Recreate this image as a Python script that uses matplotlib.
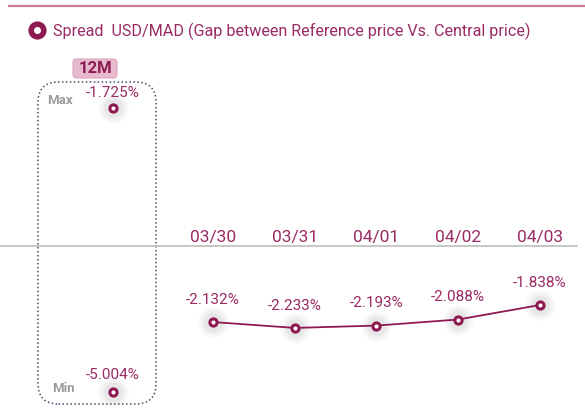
import matplotlib
matplotlib.use('Agg')
import matplotlib.pyplot as plt
from matplotlib.lines import Line2D
from matplotlib.patches import FancyBboxPatch
import numpy as np

# data
dates = ['03/30', '03/31', '04/01', '04/02', '04/03']
spread = [-2.132, -2.233, -2.193, -2.088, -1.838]
max_12m = -1.725
min_12m = -5.004
title = 'Spread  USD/MAD (Gap between Reference price Vs. Central price)'

MAROON = '#8e1a52'
TXT = '#9a2a63'
GRAY = '#9a9a9a'
W, H = 585, 408

plt.rcParams['font.family'] = ['Roboto', 'DejaVu Sans']


def fx(x):
    return x / W


def fy(y):
    return 1 - y / H


fig = plt.figure(figsize=(W / 100, H / 100), dpi=100)
fig.patch.set_facecolor('white')

# main axes: daily spread (index 0 at px 213, step ~81.75 px; -1.838 at px 305, 58 px/unit)
ax = fig.add_axes([0, 0, 1, 1])
ax.set_axis_off()
step = 81.75
ax.set_xlim(-213 / step, (W - 213) / step)
ax.set_ylim(-1.838 - (H - 305) / 58, -1.838 + 305 / 58)

x = np.arange(len(dates))


def glow(a, xs, ys, big=0):
    for s, al in [(22, 0.06), (18, 0.08), (14, 0.11)]:
        a.plot(xs, ys, 'o', ms=s + big, color='#9a9a9a', alpha=al, mec='none', zorder=2,
               ls='none')


ax.plot(x, spread, color=MAROON, lw=1.3, zorder=3)
glow(ax, x, spread)
ax.plot(x, spread, 'o', ms=5.2, mfc='white', mec=MAROON, mew=2.2, zorder=4)
for xi, v in zip(x, spread):
    ax.annotate(f'{v:.3f}%', (xi, v), xytext=(0, 16), textcoords='offset points',
                ha='center', va='center', fontsize=11, color=TXT)

# date labels and separator
for xi, d in zip(x, dates):
    ax.text(xi, fy(237), d, transform=ax.get_xaxis_transform(), ha='center', va='center',
            fontsize=12.5, color=TXT)
fig.add_artist(Line2D([0, fx(577)], [fy(246), fy(246)], color='#bdbdbd', lw=1.2))

# top line
fig.add_artist(Line2D([fx(9), 1], [fy(6), fy(6)], color='#c97a9d', lw=1.6))

# legend / title
leg_h = Line2D([], [], marker='o', ls='none', ms=6.5, mfc='white', mec=MAROON, mew=4.0)
leg = fig.legend([leg_h], [title], loc='center left', bbox_to_anchor=(fx(29), fy(31)),
                 frameon=False, fontsize=11.6, handletextpad=0.5, handlelength=1.0,
                 borderaxespad=0, borderpad=0, markerscale=1.4)
for t in leg.get_texts():
    t.set_color(TXT)

# 12M panel
ax12 = fig.add_axes([0, 0, 1, 1])
ax12.set_axis_off()
ax12.patch.set_alpha(0)
upp = 284 / (max_12m - min_12m)
ax12.set_xlim(-113, W - 113)
ax12.set_ylim(min_12m - (H - 392) / upp, max_12m + 108 / upp)

box = FancyBboxPatch((fx(38), fy(404)), fx(156 - 38), (404 - 82) / H,
                     boxstyle='round,pad=0,rounding_size=0.035', transform=fig.transFigure,
                     fill=False, ec='#4a4a6a', lw=1.1, ls=(0, (1, 1.6)), mutation_aspect=W / H)
fig.add_artist(box)

tag = FancyBboxPatch((fx(73), fy(78)), fx(44), 19 / H,
                     boxstyle='round,pad=0,rounding_size=0.006', transform=fig.transFigure,
                     fc='#e7b9cd', ec='#dca6be', lw=0.8, mutation_aspect=W / H)
fig.add_artist(tag)
fig.text(fx(95), fy(68.5), '12M', ha='center', va='center', fontsize=12,
         fontweight='bold', color=MAROON)

ext = [max_12m, min_12m]
glow(ax12, [0, 0], ext)
ax12.plot([0, 0], ext, 'o', ms=5.2, mfc='white', mec=MAROON, mew=2.2, ls='none', zorder=4)
ax12.annotate(f'{max_12m:.3f}%', (0, max_12m), xytext=(0, 11), textcoords='offset points',
              ha='center', va='center', fontsize=11, color=TXT)
ax12.annotate(f'{min_12m:.3f}%', (0, min_12m), xytext=(0, 12.5), textcoords='offset points',
              ha='center', va='center', fontsize=11, color=TXT)
fig.text(fx(60), fy(100), 'Max', ha='center', va='center', fontsize=9.5,
         fontweight='bold', color=GRAY)
fig.text(fx(63), fy(388), 'Min', ha='center', va='center', fontsize=9.5,
         fontweight='bold', color=GRAY)

fig.savefig('out.png', dpi=100, facecolor='white')
